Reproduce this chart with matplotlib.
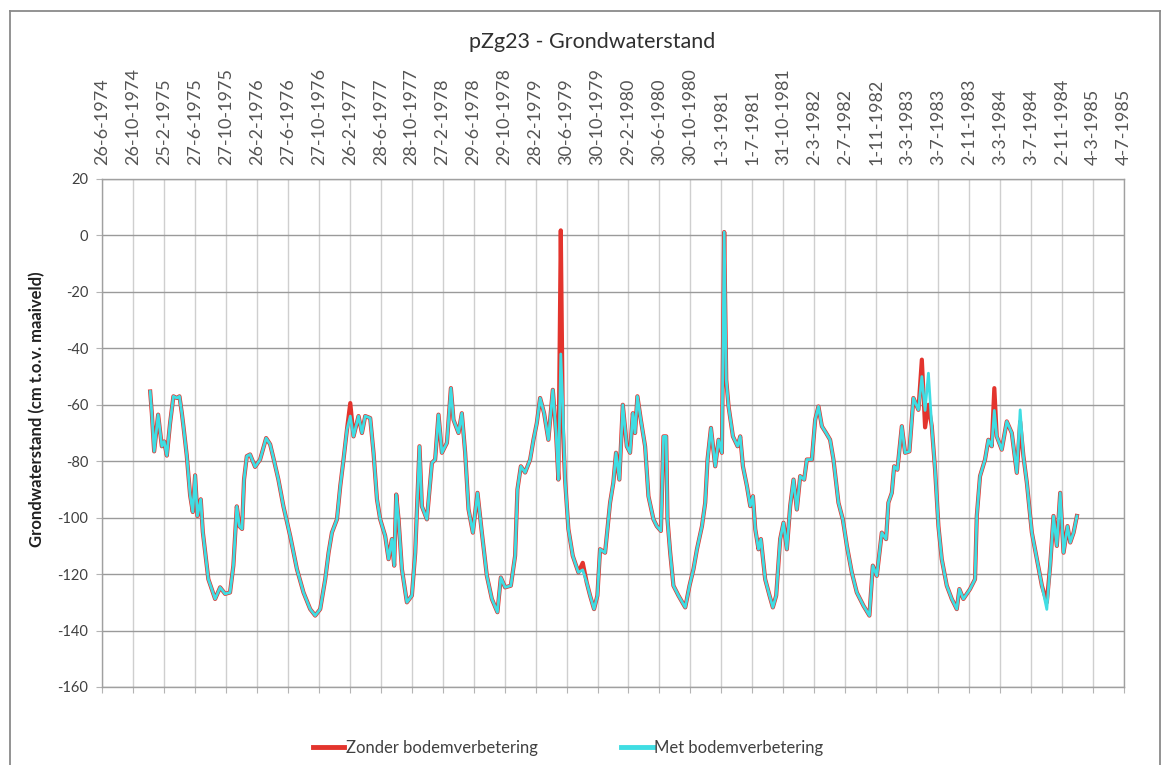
import datetime as dt
import matplotlib
matplotlib.use("Agg")
import matplotlib.pyplot as plt
from matplotlib.lines import Line2D

plt.rcParams['font.family'] = ['Lato', 'DejaVu Sans']
plt.rcParams['axes.unicode_minus'] = False

title = 'pZg23 - Grondwaterstand'
y_label = 'Grondwaterstand (cm t.o.v. maaiveld)'
series_names = ['Zonder bodemverbetering', 'Met bodemverbetering']

tick_labels = ['26-6-1974', '26-10-1974', '25-2-1975', '27-6-1975', '27-10-1975',
               '26-2-1976', '27-6-1976', '27-10-1976', '26-2-1977', '28-6-1977',
               '28-10-1977', '27-2-1978', '29-6-1978', '29-10-1978', '28-2-1979',
               '30-6-1979', '30-10-1979', '29-2-1980', '30-6-1980', '30-10-1980',
               '1-3-1981', '1-7-1981', '31-10-1981', '2-3-1982', '2-7-1982',
               '1-11-1982', '3-3-1983', '3-7-1983', '2-11-1983', '3-3-1984',
               '3-7-1984', '2-11-1984', '4-3-1985', '4-7-1985']

y_ticks = [20, 0, -20, -40, -60, -80, -100, -120, -140, -160]

t_year = [
    1975.002, 1975.020, 1975.045, 1975.088, 1975.128, 1975.153, 1975.182, 1975.217,
    1975.253, 1975.290, 1975.318, 1975.344, 1975.361, 1975.397, 1975.433, 1975.462,
    1975.487, 1975.512, 1975.548, 1975.570, 1975.595, 1975.630, 1975.667, 1975.703,
    1975.757, 1975.811, 1975.864, 1975.900, 1975.937, 1975.965, 1975.994, 1976.015,
    1976.045, 1976.080, 1976.134, 1976.188, 1976.253, 1976.296, 1976.331, 1976.385,
    1976.439, 1976.512, 1976.584, 1976.655, 1976.727, 1976.781, 1976.835, 1976.889,
    1976.925, 1976.961, 1977.015, 1977.051, 1977.086, 1977.123, 1977.159, 1977.194,
    1977.248, 1977.285, 1977.320, 1977.374, 1977.410, 1977.447, 1977.482, 1977.536,
    1977.572, 1977.608, 1977.633, 1977.655, 1977.680, 1977.716, 1977.770, 1977.824,
    1977.860, 1977.906, 1977.932, 1977.986, 1978.040, 1978.075, 1978.111, 1978.148,
    1978.202, 1978.245, 1978.273, 1978.327, 1978.363, 1978.399, 1978.435, 1978.482,
    1978.532, 1978.579, 1978.633, 1978.687, 1978.747, 1978.784, 1978.830, 1978.892,
    1978.938, 1978.963, 1979.000, 1979.046, 1979.100, 1979.136, 1979.172, 1979.208,
    1979.251, 1979.297, 1979.345, 1979.380, 1979.405, 1979.431, 1979.453, 1979.477,
    1979.513, 1979.560, 1979.621, 1979.668, 1979.711, 1979.747, 1979.790, 1979.826,
    1979.855, 1979.909, 1979.963, 1979.998, 1980.027, 1980.063, 1980.100, 1980.143,
    1980.178, 1980.208, 1980.232, 1980.257, 1980.294, 1980.340, 1980.376, 1980.430,
    1980.466, 1980.510, 1980.538, 1980.567, 1980.581, 1980.610, 1980.645, 1980.699,
    1980.772, 1980.818, 1980.861, 1980.898, 1980.952, 1980.987, 1981.012, 1981.049,
    1981.095, 1981.131, 1981.167, 1981.192, 1981.214, 1981.239, 1981.286, 1981.336,
    1981.365, 1981.394, 1981.437, 1981.473, 1981.502, 1981.527, 1981.562, 1981.588,
    1981.634, 1981.681, 1981.717, 1981.753, 1981.796, 1981.832, 1981.868, 1981.904,
    1981.940, 1981.976, 1982.012, 1982.055, 1982.084, 1982.138, 1982.174, 1982.209,
    1982.246, 1982.292, 1982.335, 1982.371, 1982.425, 1982.472, 1982.516, 1982.569,
    1982.623, 1982.695, 1982.759, 1982.796, 1982.839, 1982.893, 1982.939, 1982.964,
    1983.001, 1983.026, 1983.061, 1983.109, 1983.144, 1983.191, 1983.234, 1983.288,
    1983.325, 1983.360, 1983.396, 1983.432, 1983.468, 1983.504, 1983.540, 1983.594,
    1983.648, 1983.702, 1983.730, 1983.773, 1983.845, 1983.899, 1983.918, 1983.953,
    1984.007, 1984.043, 1984.079, 1984.107, 1984.133, 1984.187, 1984.241, 1984.295,
    1984.349, 1984.385, 1984.420, 1984.457, 1984.511, 1984.565, 1984.619, 1984.672,
    1984.708, 1984.744, 1984.780, 1984.816, 1984.852, 1984.895, 1984.924, 1984.960,
    1984.996,
]

zonder = [
    -55.3, -63.0, -76.5, -63.5, -74.7, -73.0, -78.0, -66.5,
    -57.0, -57.6, -57.0, -63.0, -67.6, -78.0, -92.0, -98.0,
    -85.0, -99.4, -93.5, -105.0, -112.0, -121.8, -125.3, -128.8,
    -124.7, -127.0, -126.5, -117.0, -96.0, -103.0, -104.0, -86.5,
    -78.2, -77.6, -82.0, -79.4, -71.8, -74.0, -78.8, -86.5,
    -96.0, -106.5, -118.2, -126.5, -132.4, -134.7, -132.4, -121.8,
    -112.4, -105.3, -100.6, -88.8, -79.4, -68.8, -59.4, -71.2,
    -64.0, -70.0, -64.0, -64.7, -77.0, -93.5, -100.6, -106.5,
    -114.7, -107.6, -117.0, -91.8, -100.6, -118.2, -130.0, -127.6,
    -112.4, -74.7, -96.0, -100.6, -80.6, -79.4, -63.5, -77.0,
    -73.5, -54.1, -65.3, -70.0, -63.0, -77.0, -97.0, -105.3,
    -91.2, -105.3, -120.6, -128.8, -133.5, -121.2, -124.7, -124.1,
    -113.5, -90.0, -81.8, -84.0, -79.4, -72.4, -66.5, -57.6,
    -63.0, -72.4, -54.7, -70.0, -86.5, 1.8, -67.6, -86.5,
    -104.0, -113.5, -119.4, -116.0, -123.0, -127.6, -132.4, -127.6,
    -111.2, -112.4, -94.7, -87.6, -77.0, -86.5, -60.0, -74.7,
    -77.0, -63.0, -70.0, -57.0, -65.3, -74.7, -92.4, -100.6,
    -103.0, -104.7, -71.2, -71.2, -100.6, -112.4, -124.1, -127.6,
    -131.8, -124.1, -118.2, -111.2, -103.0, -94.7, -79.4, -68.2,
    -81.8, -72.4, -77.0, 1.2, -51.2, -60.6, -71.2, -74.7,
    -71.2, -81.8, -88.8, -95.9, -92.4, -104.0, -111.2, -107.6,
    -121.8, -127.6, -131.8, -127.6, -107.6, -101.8, -111.2, -95.9,
    -86.5, -97.1, -85.3, -86.5, -79.4, -79.4, -65.3, -60.6,
    -67.6, -70.0, -72.4, -79.4, -94.7, -100.6, -110.0, -119.4,
    -126.5, -131.2, -134.7, -117.0, -120.6, -105.3, -107.6, -94.7,
    -91.2, -81.8, -83.0, -67.6, -77.0, -76.5, -57.6, -61.8,
    -44.0, -68.0, -60.0, -67.6, -83.0, -103.0, -114.7, -124.1,
    -128.8, -132.4, -125.3, -128.8, -125.3, -121.8, -99.4, -85.3,
    -79.4, -72.4, -74.7, -54.1, -71.2, -75.9, -65.9, -70.0,
    -84.1, -66.0, -78.2, -87.6, -105.3, -114.7, -124.1, -130.0,
    -117.0, -99.4, -110.0, -91.2, -112.4, -103.0, -108.8, -105.3,
    -99.4,
]

met = [
    -55.3, -63.0, -76.5, -63.5, -74.7, -73.0, -78.0, -66.5,
    -57.0, -57.6, -57.0, -63.0, -67.6, -78.0, -92.0, -98.0,
    -85.0, -99.4, -93.5, -105.0, -112.0, -121.8, -125.3, -128.8,
    -124.7, -127.0, -126.5, -117.0, -96.0, -103.0, -104.0, -86.5,
    -78.2, -77.6, -82.0, -79.4, -71.8, -74.0, -78.8, -86.5,
    -96.0, -106.5, -118.2, -126.5, -132.4, -134.7, -132.4, -121.8,
    -112.4, -105.3, -100.6, -88.8, -79.4, -68.8, -64.0, -71.2,
    -64.0, -70.0, -64.0, -64.7, -77.0, -93.5, -100.6, -106.5,
    -114.7, -107.6, -117.0, -91.8, -100.6, -118.2, -130.0, -127.6,
    -112.4, -74.7, -96.0, -100.6, -80.6, -79.4, -63.5, -77.0,
    -73.5, -54.1, -65.3, -70.0, -63.0, -77.0, -97.0, -105.3,
    -91.2, -105.3, -120.6, -128.8, -133.5, -121.2, -124.7, -124.1,
    -113.5, -90.0, -81.8, -84.0, -79.4, -72.4, -66.5, -57.6,
    -63.0, -72.4, -54.7, -70.0, -86.5, -42.0, -60.6, -86.5,
    -104.0, -113.5, -119.4, -118.5, -123.0, -127.6, -132.4, -127.6,
    -111.2, -112.4, -94.7, -87.6, -77.0, -86.5, -60.0, -74.7,
    -77.0, -63.0, -70.0, -57.0, -65.3, -74.7, -92.4, -100.6,
    -103.0, -104.7, -71.2, -71.2, -100.6, -112.4, -124.1, -127.6,
    -131.8, -124.1, -118.2, -111.2, -103.0, -94.7, -79.4, -68.2,
    -81.8, -72.4, -77.0, 1.2, -51.2, -60.6, -71.2, -74.7,
    -71.2, -81.8, -88.8, -95.9, -92.4, -104.0, -111.2, -107.6,
    -121.8, -127.6, -131.8, -127.6, -107.6, -101.8, -111.2, -95.9,
    -86.5, -97.1, -85.3, -86.5, -79.4, -79.4, -65.3, -60.6,
    -67.6, -70.0, -72.4, -79.4, -94.7, -100.6, -110.0, -119.4,
    -126.5, -131.2, -134.7, -117.0, -120.6, -105.3, -107.6, -94.7,
    -91.2, -81.8, -83.0, -67.6, -77.0, -76.5, -57.6, -61.8,
    -50.0, -62.0, -48.8, -67.6, -83.0, -103.0, -114.7, -124.1,
    -128.8, -132.4, -125.3, -128.8, -125.3, -121.8, -99.4, -85.3,
    -79.4, -72.4, -74.7, -62.0, -71.2, -75.9, -65.9, -70.0,
    -84.1, -61.8, -78.2, -87.6, -105.3, -114.7, -124.1, -132.5,
    -117.0, -99.4, -110.0, -91.2, -112.4, -103.0, -108.8, -105.3,
    -99.4,
]

RED = '#e3342d'
CYAN = '#3fdde3'
GRID = '#b4b4b4'
TXT = '#404040'


def dec_to_date(y):
    yr = int(y)
    start = dt.datetime(yr, 1, 1)
    ndays = (dt.datetime(yr + 1, 1, 1) - start).days
    return start + dt.timedelta(days=(y - yr) * ndays)


dates = [dec_to_date(y) for y in t_year]
tick_dates = [dt.datetime.strptime(s, '%d-%m-%Y') for s in tick_labels]

fig = plt.figure(figsize=(11.67, 7.65), dpi=100)
ax = fig.add_axes([102 / 1167, 1 - 687 / 765, 1022 / 1167, 508 / 765])

ax.plot(dates, zonder, color=RED, lw=3.0, zorder=3, label=series_names[0])
ax.plot(dates, met, color=CYAN, lw=2.0, zorder=4, label=series_names[1])

ax.set_xlim(tick_dates[0], tick_dates[-1])
ax.set_ylim(-160, 20)
ax.set_yticks(y_ticks)
ax.set_xticks(tick_dates)
ax.set_xticklabels(tick_labels, rotation=90)

ax.tick_params(axis='x', bottom=True, top=False, labelbottom=False, labeltop=True,
               length=4, color=GRID, labelsize=13, labelcolor='#555555', pad=6)
ax.tick_params(axis='y', length=4, color=GRID, labelsize=10.5, labelcolor=TXT, pad=6)

ax.grid(True, axis='y', color='#9a9a9a', lw=1.0)
ax.grid(True, axis='x', color='#cfcfcf', lw=1.0)
ax.set_axisbelow(True)
for sp in ax.spines.values():
    sp.set_color('#a0a0a0')
    sp.set_linewidth(1.0)

fig.text(592 / 1167, 1 - 42 / 765, title, ha='center', va='center',
         fontsize=15.5, color='#303030')
fig.text(37 / 1167, 1 - 409 / 765, y_label, ha='center', va='center',
         rotation=90, fontsize=12, fontweight='bold', color='#202020')

handles = [Line2D([], [], color=RED, lw=3.5), Line2D([], [], color=CYAN, lw=3.5)]
fig.legend(handles, series_names, loc='center', bbox_to_anchor=(568 / 1167, 1 - 748 / 765),
           ncol=2, frameon=False, fontsize=12, handlelength=1.9, handletextpad=0.1,
           columnspacing=5.0, labelcolor=TXT)

# outer chart frame
for xs, ys in [((10, 10), (11, 765)), ((10, 1160), (11, 11)), ((1160, 1160), (11, 765))]:
    fig.add_artist(Line2D([x / 1167 for x in xs], [1 - y / 765 for y in ys],
                          color='#8a8a8a', lw=1.3))

fig.savefig('out.png', dpi=100, facecolor='white')
